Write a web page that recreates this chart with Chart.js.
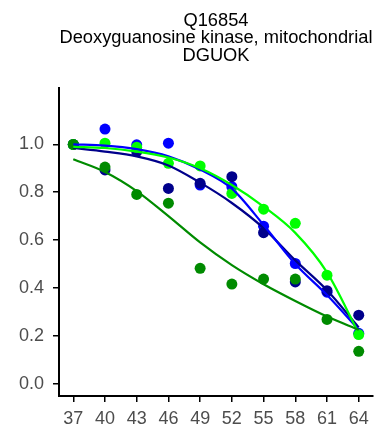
<!DOCTYPE html>
<html>
<head>
<meta charset="utf-8">
<script src="https://cdn.jsdelivr.net/npm/chart.js@4.4.1/dist/chart.umd.min.js"></script>
<style>
  html, body { margin: 0; padding: 0; background: #fff; }
  #chart { display: block; }
</style>
</head>
<body>
<canvas id="chart" width="381" height="440"></canvas>
<script>
//================================ DATA

const titleLines = ['Q16854', 'Deoxyguanosine kinase, mitochondrial', 'DGUOK'];

const temps = [37, 40, 43, 46, 49, 52, 55, 58, 61, 64];
const xTicks = [37, 40, 43, 46, 49, 52, 55, 58, 61, 64];
const yTicks = [0, 0.2, 0.4, 0.6, 0.8, 1.0];

// measured points
const bluePts = [1.0, 1.064, 0.998, 1.005, 0.83, 0.823, 0.658, 0.502, 0.382, 0.21];
const navyPts = [1.0, 0.893, 0.97, 0.816, 0.837, 0.865, 0.631, 0.425, 0.388, 0.286];
const limePts = [1.0, 1.005, 0.988, 0.921, 0.91, 0.795, 0.729, 0.67, 0.453, 0.205];
const dkGreenPts = [1.0, 0.905, 0.791, 0.754, 0.482, 0.416, 0.437, 0.437, 0.268, 0.135];

// fitted curves, read at each temperature
const blueFit = [1.0, 0.995, 0.98, 0.95, 0.895, 0.815, 0.663, 0.50, 0.37, 0.225];
const navyFit = [0.985, 0.97, 0.95, 0.912, 0.84, 0.755, 0.65, 0.515, 0.39, 0.235];
const limeFit = [0.99, 0.985, 0.97, 0.945, 0.90, 0.83, 0.74, 0.63, 0.465, 0.21];
const dkGreenFit = [0.938, 0.885, 0.805, 0.70, 0.59, 0.495, 0.415, 0.345, 0.28, 0.225];

//================================ CONSTANTS

const X_MIN = 35.65;
const X_MAX = 65.35;
const Y_MIN = -0.052;
const Y_MAX = 1.237;

const C_BLUE = '#0000FF';
const C_NAVY = '#00008B';
const C_LIME = '#00FF00';
const C_DKGREEN = '#008B00';

const FONT_FAMILY = '"Liberation Sans", Arial, Helvetica, sans-serif';
const tickFont = { family: FONT_FAMILY, size: 18 };

//================================ HELPERS

function toPoints (xs, ys) {
  const out = [];
  for (let i = 0; i < xs.length; i++) {
    out.push({ x: xs[i], y: ys[i] });
  }
  return out;
}

function curveSet (label, ys, color, order) {
  return {
    label: label,
    data: toPoints(temps, ys),
    borderColor: color,
    borderWidth: 2.2,
    pointRadius: 0,
    showLine: true,
    fill: false,
    cubicInterpolationMode: 'monotone',
    order: order,
  };
}

function pointSet (label, ys, color, order) {
  return {
    label: label,
    data: toPoints(temps, ys),
    showLine: false,
    pointRadius: 5.5,
    pointBorderWidth: 0,
    pointBackgroundColor: color,
    borderColor: color,
    order: order,
  };
}

//================================ CHART

const datasets = [
  curveSet('dkgreen fit', dkGreenFit, C_DKGREEN, 0),
  curveSet('lime fit', limeFit, C_LIME, 1),
  curveSet('blue fit', blueFit, C_BLUE, 2),
  curveSet('navy fit', navyFit, C_NAVY, 3),
  pointSet('dkgreen', dkGreenPts, C_DKGREEN, 4),
  pointSet('lime', limePts, C_LIME, 5),
  pointSet('navy', navyPts, C_NAVY, 6),
  pointSet('blue', bluePts, C_BLUE, 7),
];

new Chart(document.getElementById('chart'), {
  type: 'line',
  data: { datasets: datasets },
  options: {
    responsive: false,
    animation: false,
    events: [],
    layout: {
      padding: { top: 0, right: 8, bottom: 0, left: 0 },
    },
    plugins: {
      legend: { display: false },
      tooltip: { enabled: false },
      title: {
        display: true,
        text: titleLines,
        fullSize: false,
        color: '#000',
        font: { family: FONT_FAMILY, size: 18.3, weight: 'normal', lineHeight: 0.96 },
        padding: { top: 12, bottom: 23 },
      },
    },
    scales: {
      x: {
        type: 'linear',
        min: X_MIN,
        max: X_MAX,
        afterBuildTicks: function (axis) {
          const t = [];
          for (let i = 0; i < xTicks.length; i++) t.push({ value: xTicks[i] });
          axis.ticks = t;
        },
        afterFit: function (axis) { axis.height = 44; },
        ticks: {
          color: '#4D4D4D',
          font: tickFont,
          padding: 6,
          autoSkip: false,
          maxRotation: 0,
          callback: function (v) { return String(v); },
        },
        grid: { drawOnChartArea: false, drawTicks: true, tickLength: 6, color: '#000', lineWidth: 1.5 },
        border: { color: '#000', width: 2 },
      },
      y: {
        type: 'linear',
        min: Y_MIN,
        max: Y_MAX,
        afterBuildTicks: function (axis) {
          const t = [];
          for (let i = 0; i < yTicks.length; i++) t.push({ value: yTicks[i] });
          axis.ticks = t;
        },
        afterFit: function (axis) { axis.width = 59; },
        ticks: {
          color: '#4D4D4D',
          font: tickFont,
          padding: 9,
          callback: function (v) { return Number(v).toFixed(1); },
        },
        grid: { drawOnChartArea: false, drawTicks: true, tickLength: 6, color: '#000', lineWidth: 1.5 },
        border: { color: '#000', width: 2 },
      },
    },
  },
});
</script>
</body>
</html>
